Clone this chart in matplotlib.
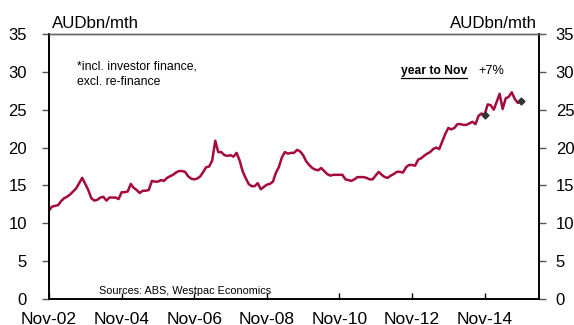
import matplotlib
matplotlib.use("Agg")
import matplotlib.pyplot as plt
import pandas as pd

plt.rcParams['font.family'] = ['Liberation Sans', 'DejaVu Sans']

start_month = '2002-11-01'
values = [
    11.7, 12.2, 12.3, 12.4, 12.9, 13.3, 13.5, 13.8, 14.2, 14.6,
    15.3, 16.0, 15.2, 14.4, 13.3, 13.0, 13.1, 13.4, 13.5, 13.0,
    13.4, 13.4, 13.4, 13.2, 14.1, 14.1, 14.2, 15.2, 14.7, 14.4,
    14.0, 14.3, 14.3, 14.4, 15.6, 15.5, 15.5, 15.7, 15.6, 16.0,
    16.2, 16.4, 16.7, 16.9, 16.9, 16.8, 16.2, 15.9, 15.8, 15.9,
    16.2, 16.8, 17.4, 17.5, 18.3, 20.9, 19.4, 19.4, 19.0, 18.9,
    19.0, 18.8, 19.3, 18.3, 16.9, 16.0, 15.2, 14.9, 14.9, 15.3,
    14.5, 14.8, 15.1, 15.2, 15.5, 16.7, 17.4, 18.7, 19.4, 19.2,
    19.3, 19.3, 19.7, 19.5, 19.0, 18.2, 17.7, 17.3, 17.1, 17.0,
    17.3, 16.9, 16.5, 16.3, 16.4, 16.4, 16.4, 16.4, 15.8, 15.7,
    15.6, 15.8, 16.1, 16.1, 16.1, 16.0, 15.8, 15.8, 16.3, 16.8,
    16.4, 16.1, 16.0, 16.3, 16.5, 16.8, 16.8, 16.7, 17.4, 17.7,
    17.7, 17.6, 18.4, 18.6, 18.9, 19.2, 19.4, 19.8, 20.0, 19.8,
    20.8, 21.8, 22.6, 22.4, 22.6, 23.1, 23.1, 23.0, 23.0, 23.2,
    23.4, 23.1, 24.2, 24.5, 24.3, 25.7, 25.6, 25.0, 26.0, 27.1,
    25.1, 26.5, 26.7, 27.3, 26.4, 25.9, 26.1,
]
marker_dates = ['2014-11-01', '2015-11-01']
tick_dates = ['2002-11-01', '2004-11-01', '2006-11-01', '2008-11-01',
              '2010-11-01', '2012-11-01', '2014-11-01']
tick_labels = ['Nov-02', 'Nov-04', 'Nov-06', 'Nov-08', 'Nov-10', 'Nov-12', 'Nov-14']
y_ticks = [0, 5, 10, 15, 20, 25, 30, 35]

dates = pd.date_range(start_month, periods=len(values), freq='MS')
series = pd.Series(values, index=dates)
mk = pd.to_datetime(marker_dates)

fig = plt.figure(figsize=(5.74, 3.25), dpi=100)
ax = fig.add_axes([49/574, 26/325, 490/574, 265/325])

line_color = '#A50A3C'
ax.plot(series.index, series.values, color=line_color, lw=1.8, zorder=3)
ax.plot(mk, series.loc[mk].values, linestyle='none', marker='D', ms=3.5,
        color='#333333', zorder=4)

ax.set_xlim(pd.Timestamp('2002-11-01'), pd.Timestamp('2016-05-01'))
ax.set_ylim(0, 35)
ax.set_xticks(pd.to_datetime(tick_dates))
ax.set_xticklabels(tick_labels)
ax.set_yticks(y_ticks)

ax.tick_params(axis='x', direction='in', length=4, width=1, pad=9, labelsize=12.5)
ax.tick_params(axis='y', direction='out', length=5, width=1, pad=11, labelsize=12,
               color='#555555')

ax2 = ax.twinx()
ax2.set_ylim(0, 35)
ax2.set_yticks(y_ticks)
ax2.tick_params(axis='y', direction='out', length=5, width=1, pad=7, labelsize=12,
                color='#555555')

for a in (ax, ax2):
    a.spines['top'].set_color('#666666')
    a.spines['top'].set_linewidth(1.0)
    for s in ('left', 'right', 'bottom'):
        a.spines[s].set_color('black')
        a.spines[s].set_linewidth(1.2)

fig.text(52/574, 1 - 24/325, 'AUDbn/mth', fontsize=12.2, ha='left', va='center')
fig.text(537/574, 1 - 24/325, 'AUDbn/mth', fontsize=12.2, ha='right', va='center')

ax.text(0.057, 0.9, '*incl. investor finance,\nexcl. re-finance', transform=ax.transAxes,
        fontsize=8.8, ha='left', va='top', linespacing=1.4)
t = ax.text(0.718, 0.862, 'year to Nov', transform=ax.transAxes, fontsize=8.7,
            fontweight='bold', ha='left', va='center')
ax.text(0.876, 0.862, '+7%', transform=ax.transAxes, fontsize=9.2,
        ha='left', va='center')
ax.text(0.102, 0.032, 'Sources: ABS, Westpac Economics', transform=ax.transAxes,
        fontsize=7.8, ha='left', va='center')

fig.canvas.draw()
bb = t.get_window_extent().transformed(ax.transAxes.inverted())
ax.plot([bb.x0, bb.x1], [bb.y0 - 0.005, bb.y0 - 0.005], transform=ax.transAxes,
        color='black', lw=0.9, clip_on=False)

fig.savefig('out.png', dpi=100)
